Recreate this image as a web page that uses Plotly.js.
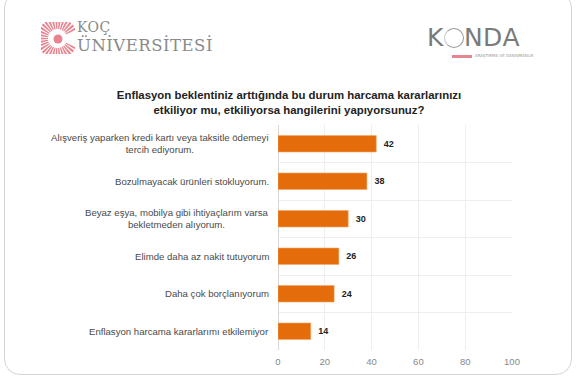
<!DOCTYPE html>
<html>
<head>
<meta charset="utf-8">
<script src="https://cdn.plot.ly/plotly-3.0.1.min.js"></script>
<style>
  html, body { margin:0; padding:0; width:578px; height:382px; overflow:hidden; background:#fff; }
  #card { position:absolute; left:4px; top:-8px; width:568px; height:383px; border:1px solid #d4d4d4; border-radius:16px; box-sizing:border-box; }
  #chart { position:absolute; left:0; top:0; width:578px; height:382px; }
  .logo { position:absolute; font-family:"DejaVu Serif", serif; color:#8a8a8a; white-space:nowrap; }
</style>
</head>
<body>
<div id="card"></div>
<div id="chart"></div>
<svg style="position:absolute;left:41px;top:22px" width="34" height="32" viewBox="0 0 34 32">
  <g fill="none" stroke="#e8848f">
    <path d="M30 10 A15 15 0 1 0 30 23" stroke-width="11" stroke-dasharray="1.7 1.1"/>
  </g>
  <circle cx="17" cy="17" r="4.5" fill="#e8848f"/>
</svg>
<div class="logo" style="left:77px;top:20px;font-size:14px;line-height:14px;letter-spacing:0.5px;">KOÇ</div>
<div class="logo" style="left:77px;top:37px;font-size:16.5px;line-height:17px;letter-spacing:0.5px;">ÜNİVERSİTESİ</div>
<div style="position:absolute;left:427px;top:25px;font-family:'DejaVu Sans',sans-serif;font-size:25px;color:#7a7a7a;letter-spacing:0.5px;line-height:25px;white-space:nowrap;">K<span style="display:inline-block;width:20px;height:20px;border:1.5px solid #999;border-radius:50%;box-sizing:border-box;vertical-align:-2px;border-left-color:#c8c8c8"></span>NDA</div>
<div style="position:absolute;left:452px;top:55px;width:20px;height:3px;background:#e8848f;"></div>
<div style="position:absolute;left:475px;top:53px;font-family:'DejaVu Sans',sans-serif;font-size:4px;color:#999;white-space:nowrap;">ARAŞTIRMA VE DANIŞMANLIK</div>
<script>
const categories = [
  "Alışveriş yaparken kredi kartı veya taksitle ödemeyi<br>tercih ediyorum.",
  "Bozulmayacak ürünleri stokluyorum.",
  "Beyaz eşya, mobilya gibi ihtiyaçlarım varsa<br>bekletmeden alıyorum.",
  "Elimde daha az nakit tutuyorum",
  "Daha çok borçlanıyorum",
  "Enflasyon harcama kararlarımı etkilemiyor"
];
const values = [42, 38, 30, 26, 24, 14];
const xTicks = [0, 20, 40, 60, 80, 100];
const titleText = "Enflasyon beklentiniz arttığında bu durum harcama kararlarınızı<br>etkiliyor mu, etkiliyorsa hangilerini yapıyorsunuz?";

const ids = categories.map((c, i) => "c" + i);

const trace = {
  type: "bar",
  orientation: "h",
  x: values,
  y: ids,
  marker: { color: "#E46C0A", line: { color: "#f2a86a", width: 0.6 } },
  texttemplate: "\u2002%{x}",
  textposition: "outside",
  textfont: { family: "Liberation Sans, Arial, sans-serif", size: 9, color: "#222", weight: "bold" },
  cliponaxis: false,
  hoverinfo: "none"
};

const annotations = categories.map((c, i) => ({
  xref: "paper", yref: "y", x: 0, y: ids[i],
  xanchor: "right", yanchor: "middle", xshift: -7,
  text: c, showarrow: false, align: "center",
  font: { family: "Liberation Sans, Arial, sans-serif", size: 9.6, color: "#4a4a4a" }
}));

const layout = {
  width: 578, height: 382,
  margin: { l: 278, r: 66, t: 125, b: 32 },
  paper_bgcolor: "rgba(0,0,0,0)",
  plot_bgcolor: "rgba(0,0,0,0)",
  showlegend: false,
  bargap: 0.56,
  title: {
    text: "<b>" + titleText + "</b>",
    x: 0.5, xref: "container", xanchor: "center",
    y: 0.74, yref: "container", yanchor: "middle",
    font: { family: "Liberation Sans, Arial, sans-serif", size: 11.4, color: "#222" }
  },
  xaxis: {
    range: [0, 100], tickvals: xTicks, ticktext: xTicks.map(String),
    showgrid: true, gridcolor: "#eeeeee", gridwidth: 1,
    zeroline: true, zerolinecolor: "#d8d8d8", zerolinewidth: 1,
    showline: false, ticks: "", ticklabelstandoff: 4,
    tickfont: { family: "Liberation Sans, Arial, sans-serif", size: 9.5, color: "#888" },
    fixedrange: true
  },
  yaxis: {
    type: "category", autorange: "reversed",
    showticklabels: false, ticks: "", tickson: "boundaries",
    showgrid: true, gridcolor: "#eeeeee", gridwidth: 1,
    showline: false, zeroline: false, fixedrange: true
  },
  annotations: annotations
};

Plotly.newPlot("chart", [trace], layout, { displayModeBar: false, staticPlot: true });
</script>
</body>
</html>
